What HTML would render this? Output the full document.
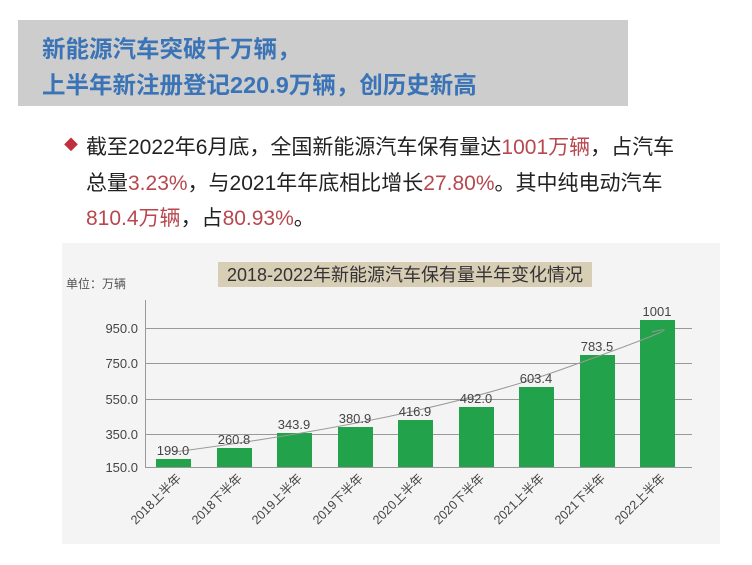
<!DOCTYPE html>
<html><head><meta charset="utf-8"><style>
body{margin:0;width:752px;height:565px;background:#fff;overflow:hidden;font-family:"Liberation Sans","Noto Sans CJK SC",sans-serif;position:relative}
.hd{position:absolute;left:18px;top:20px;width:610px;height:86px;background:#cdcdcd}
.hd div{position:absolute;left:24px;color:#3a74b6;font-weight:bold;font-size:23.5px;white-space:nowrap}
.tx{position:absolute;left:86px;font-size:21px;color:#222;white-space:nowrap}
.r{color:#b8474f}
</style></head><body>
<div class="hd"><div style="top:10px">新能源汽车突破千万辆，</div><div style="top:46px">上半年新注册登记220.9万辆，创历史新高</div></div>
<div style="position:absolute;left:64px;top:135px;color:#c0303a;font-size:14px">◆</div>
<div class="tx" style="top:131px">截至2022年6月底，全国新能源汽车保有量达<span class="r">1001万辆</span>，占汽车</div>
<div class="tx" style="top:167px">总量<span class="r">3.23%</span>，与2021年年底相比增长<span class="r">27.80%</span>。其中纯电动汽车</div>
<div class="tx" style="top:202px"><span class="r">810.4万辆</span>，占<span class="r">80.93%</span>。</div>
<svg style="position:absolute;left:0;top:0" width="752" height="565" font-family="Liberation Sans, Noto Sans CJK SC, sans-serif">
<rect x="62" y="243" width="658" height="301" fill="#f4f4f4"/>
<rect x="218" y="262" width="374" height="25" fill="#d8ceb6"/>
<text x="405" y="281" font-size="18" fill="#333" text-anchor="middle">2018-2022年新能源汽车保有量半年变化情况</text>
<text x="66" y="288" font-size="12" fill="#555">单位：万辆</text>
<g stroke="#999" stroke-width="1">
<line x1="145" y1="328.5" x2="692" y2="328.5"/><line x1="145" y1="363.5" x2="692" y2="363.5"/>
<line x1="145" y1="399.5" x2="692" y2="399.5"/><line x1="145" y1="434.5" x2="692" y2="434.5"/>
<line x1="145" y1="467.5" x2="692" y2="467.5"/><line x1="145.5" y1="300" x2="145.5" y2="467"/>
</g>
<g font-size="13" fill="#444" text-anchor="end">
<text x="138" y="333">950.0</text><text x="138" y="368">750.0</text><text x="138" y="404">550.0</text><text x="138" y="439">350.0</text><text x="138" y="472">150.0</text>
</g>
<g fill="#22a24a">
<rect x="156" y="459" width="35" height="8"/><rect x="217" y="448" width="35" height="19"/>
<rect x="277" y="433" width="35" height="34"/><rect x="338" y="427" width="35" height="40"/>
<rect x="398" y="420" width="35" height="47"/><rect x="459" y="407" width="35" height="60"/>
<rect x="519" y="387" width="35" height="80"/><rect x="580" y="355" width="35" height="112"/>
<rect x="640" y="320" width="35" height="147"/>
</g>
<path d="M174 452 Q 420 420 560 370 T 652 332" fill="none" stroke="#999" stroke-width="1"/>
<g font-size="13" fill="#444" text-anchor="middle">
<text x="173" y="455">199.0</text><text x="234" y="444">260.8</text><text x="294" y="429">343.9</text>
<text x="355" y="423">380.9</text><text x="415" y="416">416.9</text><text x="476" y="403">492.0</text>
<text x="536" y="383">603.4</text><text x="597" y="351">783.5</text><text x="657" y="316">1001</text>
</g>
<g font-size="12.5" fill="#444" text-anchor="end">
<text transform="translate(182,479) rotate(-45)">2018上半年</text>
<text transform="translate(243,479) rotate(-45)">2018下半年</text>
<text transform="translate(303,479) rotate(-45)">2019上半年</text>
<text transform="translate(364,479) rotate(-45)">2019下半年</text>
<text transform="translate(424,479) rotate(-45)">2020上半年</text>
<text transform="translate(485,479) rotate(-45)">2020下半年</text>
<text transform="translate(545,479) rotate(-45)">2021上半年</text>
<text transform="translate(606,479) rotate(-45)">2021下半年</text>
<text transform="translate(666,479) rotate(-45)">2022上半年</text>
</g>
</svg>
</body></html>
